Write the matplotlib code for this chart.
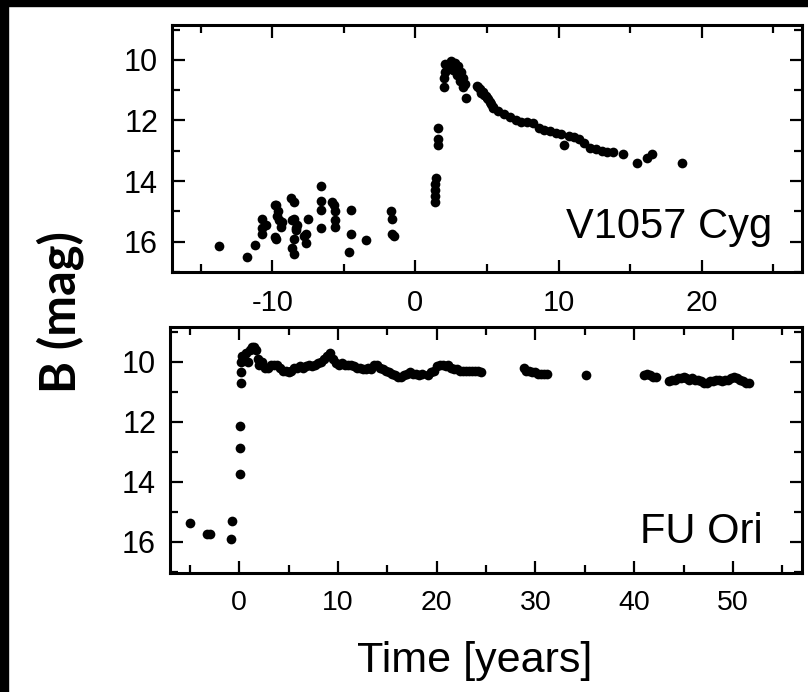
import matplotlib
matplotlib.use("Agg")
import matplotlib.pyplot as plt
from matplotlib.patches import Rectangle
from matplotlib.ticker import MultipleLocator

plt.rcParams["axes.unicode_minus"] = False

# ---------------- data ----------------
# V1057 Cyg (top panel): time [yr], B [mag]
cyg_t = [-13.7, -11.75, -11.2, -10.7, -10.7, -10.45, -10.7, -9.75, -9.6, -9.5, -9.75, -9.4,
         -9.8, -9.7, -9.35, -9.8,
         -8.7, -8.45, -8.6, -8.35, -8.45, -8.6, -8.45, -8.25, -8.5, -8.35,
         -7.65, -7.65, -7.5, -7.75,
         -6.6, -6.6, -6.6, -6.6, -5.8, -5.65, -5.65, -5.65, -5.7,
         -4.5, -4.5, -4.65, -3.45, -1.7, -1.65, -1.6, -1.5,
         1.4, 1.4, 1.4, 1.4, 1.45, 1.55, 1.55, 1.6,
         2.0, 2.0, 2.05, 2.1, 2.2, 2.3, 2.5, 2.6, 2.8, 2.9, 3.0, 3.1, 3.2, 3.3, 3.35, 3.45, 3.5,
         4.3, 4.4, 4.5, 4.6, 4.7, 4.8, 4.9, 5.0, 5.1, 5.2, 5.3, 5.4, 5.45,
         5.8, 6.2, 6.6, 7.0, 7.4, 7.8, 8.2, 8.6, 9.0, 9.4, 9.8, 10.2, 10.4, 10.7, 11.1, 11.4,
         11.8, 12.2, 12.6, 13.0, 13.4, 13.8, 14.5, 15.5, 16.2, 16.5, 18.6]
cyg_b = [16.15, 16.5, 16.1, 15.25, 15.55, 15.45, 15.75, 14.8, 15.0, 15.3, 15.9, 15.5,
         14.8, 15.15, 15.35, 15.85,
         14.55, 14.7, 15.3, 15.55, 15.9, 16.2, 16.4, 15.45, 15.25, 15.6,
         15.75, 16.05, 15.25, 15.8,
         14.15, 14.65, 14.95, 15.55, 14.7, 15.0, 15.3, 15.5, 14.8,
         14.95, 15.75, 16.35, 15.95, 15.0, 15.25, 15.75, 15.8,
         14.7, 14.5, 14.3, 14.1, 13.9, 12.8, 12.6, 12.25,
         10.9, 10.6, 10.4, 10.15, 10.2, 10.3, 10.05, 10.35, 10.1, 10.5, 10.2, 10.7, 10.4, 10.9, 10.6, 10.8, 11.25,
         10.85, 10.9, 10.95, 11.1, 11.05, 11.15, 11.2, 11.25, 11.3, 11.4, 11.45, 11.55, 11.6,
         11.7, 11.8, 11.9, 12.0, 12.05, 12.05, 12.1, 12.25, 12.3, 12.35, 12.4, 12.45, 12.8, 12.5, 12.55, 12.6,
         12.75, 12.9, 12.95, 13.0, 13.05, 13.05, 13.1, 13.4, 13.25, 13.1, 13.4]

# FU Ori (bottom panel): time [yr], B [mag]
fu_t = [-5.0, -3.3, -2.9, -0.7, -0.85, 0.1, 0.1, 0.1, 0.17, 0.17,
        0.2, 0.3, 0.5, 0.7, 0.9, 1.1, 1.3, 1.5, 1.7, 1.9, 2.0, 2.3, 2.6, 2.9, 3.2, 3.5, 3.8,
        4.1, 4.4, 4.7, 5.0, 5.3, 5.6, 5.9, 6.2, 6.5, 6.8, 7.1, 7.4, 7.7, 8.0, 8.3, 8.6, 8.9,
        9.2, 9.5, 9.8, 10.1, 10.4, 10.7, 11.0, 11.3, 11.6, 11.9, 12.2, 12.5, 12.8, 13.1, 13.4,
        13.7, 14.0, 14.3, 14.6, 14.9, 15.2, 15.5, 15.8, 16.1, 16.4, 16.7, 17.0, 17.3, 17.6,
        17.9, 18.2, 18.5, 19.1, 19.4, 19.7, 20.0, 20.3, 20.6, 20.9, 21.2, 21.5, 21.8, 22.1,
        22.4, 22.7, 23.0, 23.3, 23.6, 23.9, 24.2, 24.5,
        28.8, 29.1, 29.4, 29.7, 30.0, 30.3, 30.6, 30.9, 31.2,
        35.1,
        41.0, 41.3, 41.6, 41.9, 42.2,
        43.5, 43.8, 44.1, 44.4, 44.7, 45.0, 45.3, 45.6, 45.9, 46.2, 46.5, 46.8, 47.1, 47.4,
        47.7, 48.0, 48.3, 48.6, 48.9, 49.2, 49.5, 49.8, 50.1, 50.4, 50.7, 51.0, 51.3, 51.6]
fu_b = [15.37, 15.75, 15.75, 15.3, 15.9, 13.75, 12.88, 12.15, 10.7, 10.35,
        10.0, 9.8, 9.9, 9.7, 10.0, 9.6, 9.5, 9.5, 9.6, 9.9, 10.1, 10.0, 10.2, 10.2, 10.1, 10.1, 10.1,
        10.2, 10.3, 10.3, 10.35, 10.3, 10.2, 10.2, 10.15, 10.2, 10.15, 10.1, 10.15, 10.1, 10.05, 10.0, 9.9, 9.8,
        9.7, 9.9, 10.05, 10.1, 10.05, 10.1, 10.1, 10.1, 10.15, 10.2, 10.2, 10.25, 10.25, 10.2, 10.25,
        10.1, 10.1, 10.2, 10.25, 10.3, 10.35, 10.4, 10.45, 10.5, 10.5, 10.45, 10.4, 10.35, 10.4,
        10.4, 10.45, 10.4, 10.45, 10.35, 10.3, 10.15, 10.1, 10.1, 10.15, 10.1, 10.2, 10.25, 10.25,
        10.3, 10.3, 10.3, 10.3, 10.3, 10.3, 10.3, 10.35,
        10.2, 10.3, 10.3, 10.35, 10.35, 10.4, 10.4, 10.4, 10.4,
        10.45,
        10.45, 10.4, 10.45, 10.5, 10.5,
        10.65, 10.6, 10.6, 10.55, 10.55, 10.5, 10.55, 10.6, 10.55, 10.6, 10.6, 10.65, 10.7, 10.7,
        10.65, 10.65, 10.6, 10.6, 10.65, 10.6, 10.6, 10.55, 10.5, 10.55, 10.6, 10.65, 10.7, 10.7]

y_ticks = [10, 12, 14, 16]
cyg_xticks = [-10, 0, 10, 20]
fu_xticks = [0, 10, 20, 30, 40, 50]
cyg_label = "V1057 Cyg"
fu_label = "FU Ori"
x_title = "Time [years]"
y_title = "B (mag)"

# ---------------- figure ----------------
W, H = 808, 692
fig = plt.figure(figsize=(W / 100, H / 100), dpi=100)
fig.patch.set_facecolor("white")

# black border bands (top and left)
fig.patches.append(Rectangle((0, 1 - 6 / H), 1, 6 / H, transform=fig.transFigure,
                             color="black", zorder=0))
fig.patches.append(Rectangle((0, 0), 8 / W, 1, transform=fig.transFigure,
                             color="black", zorder=0))

tick_font = "Liberation Sans"


def px_axes(x0, y0, x1, y1):
    return fig.add_axes([x0 / W, 1 - y1 / H, (x1 - x0) / W, (y1 - y0) / H])


def style(ax, xlab_size, ylab_size):
    for s in ax.spines.values():
        s.set_linewidth(2.2)
    ax.yaxis.set_major_locator(MultipleLocator(2))
    ax.yaxis.set_minor_locator(MultipleLocator(1))
    ax.xaxis.set_major_locator(MultipleLocator(10))
    ax.xaxis.set_minor_locator(MultipleLocator(5))
    ax.tick_params(which="both", direction="in", top=True, right=True, width=1.6)
    ax.tick_params(which="major", length=9)
    ax.tick_params(which="minor", length=5.5)
    ax.tick_params(axis="y", which="major", pad=10, labelsize=ylab_size)
    ax.tick_params(axis="x", which="major", pad=12, labelsize=xlab_size)


def font_ticks(ax):
    for lab in ax.get_xticklabels() + ax.get_yticklabels():
        lab.set_fontfamily(tick_font)


ax1 = px_axes(172, 25, 802, 272)
ax1.plot(cyg_t, cyg_b, "o", color="black", ms=7, mew=0)
ax1.set_xlim(-17, 27)
ax1.set_ylim(17.0, 8.85)
style(ax1, 21, 22)
ax1.set_yticks(y_ticks)
ax1.set_xticks(cyg_xticks)
font_ticks(ax1)
ax1.text(0.952, 0.138, cyg_label, transform=ax1.transAxes, ha="right", va="baseline",
         fontsize=30, family=tick_font)

ax2 = px_axes(170, 327, 802, 573)
ax2.plot(fu_t, fu_b, "o", color="black", ms=7, mew=0)
ax2.set_xlim(-7, 57)
ax2.set_ylim(17.05, 8.85)
style(ax2, 20.5, 22)
ax2.set_yticks(y_ticks)
ax2.set_xticks(fu_xticks)
font_ticks(ax2)
ax2.text(0.938, 0.122, fu_label, transform=ax2.transAxes, ha="right", va="baseline",
         fontsize=30, family=tick_font)

fig.text(475 / W, 1 - 672 / H, x_title, ha="center", va="baseline",
         fontsize=31, family=tick_font)
fig.text(60 / W, 1 - 312 / H, y_title, rotation=90, ha="center", va="center",
         fontsize=35, fontweight="bold", family="Lato")

fig.savefig("out.png", dpi=100, facecolor="white")
